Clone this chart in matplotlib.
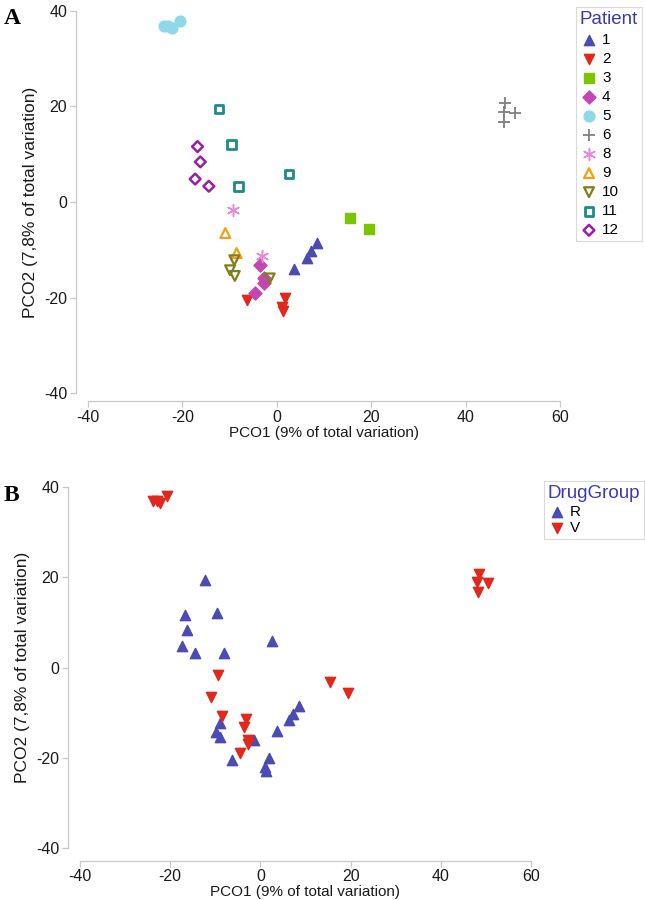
import matplotlib
matplotlib.use('Agg')
import matplotlib.pyplot as plt

plt.rcParams['font.family'] = ['Liberation Sans', 'DejaVu Sans']
plt.rcParams['axes.unicode_minus'] = False

# ---------------- data ----------------
patient_ids = ['1', '2', '3', '4', '5', '6', '8', '9', '10', '11', '12']
patient_group = ['R', 'R', 'V', 'V', 'V', 'V', 'V', 'V', 'R', 'R', 'R']
pco1_values = [
    [3.7, 6.3, 7.2, 8.5],          # 1
    [-6.4, 1.8, 1.1, 1.3],         # 2
    [15.5, 19.5],                  # 3
    [-3.6, -2.8, -2.7, -4.6],      # 4
    [-23.8, -23.0, -22.3, -20.6],  # 5
    [48.4, 48.1, 50.4, 48.2],      # 6
    [-9.3, -3.1],                  # 8
    [-10.9, -8.5],                 # 9
    [-9.0, -9.9, -8.9, -1.5],      # 10
    [-12.2, -9.6, -8.1, 2.6],      # 11
    [-16.8, -16.2, -17.3, -14.4],  # 12
]
pco2_values = [
    [-14.1, -11.7, -10.2, -8.6],
    [-20.6, -20.0, -22.0, -22.9],
    [-3.3, -5.7],
    [-13.1, -16.0, -17.0, -19.0],
    [36.9, 36.8, 36.5, 37.9],
    [20.8, 18.9, 18.7, 16.7],
    [-1.7, -11.4],
    [-6.5, -10.7],
    [-12.2, -14.3, -15.5, -16.0],
    [19.5, 12.0, 3.2, 5.9],
    [11.6, 8.4, 4.8, 3.3],
]
groups = ['R', 'V']
x_ticks = [-40, -20, 0, 20, 40, 60]
y_ticks = [-40, -20, 0, 20, 40]

# ---------------- styles ----------------
p_styles = {
    '1':  dict(marker='^', s=55, c='#4B4BB4'),
    '2':  dict(marker='v', s=55, c='#E0281C'),
    '3':  dict(marker='s', s=42, c='#7CC400'),
    '4':  dict(marker='D', s=44, c='#C645B2'),
    '5':  dict(marker='o', s=60, c='#8ED8E8'),
    '6':  dict(marker='+', s=70, c='#7F7F7F', linewidths=1.3),
    '8':  dict(marker=(6, 2, 0), s=75, c='#E38BDA', linewidths=1.1),
    '9':  dict(marker='^', s=50, facecolors='none', edgecolors='#F0A010', linewidths=1.6),
    '10': dict(marker='v', s=50, facecolors='none', edgecolors='#7F7F1E', linewidths=1.6),
    '11': dict(marker='s', s=38, facecolors='none', edgecolors='#1E8A8A', linewidths=2.0),
    '12': dict(marker='D', s=30, facecolors='none', edgecolors='#9A1EA8', linewidths=1.8),
}
g_styles = {
    'R': dict(marker='^', s=55, c='#4B4BB4'),
    'V': dict(marker='v', s=55, c='#E0281C'),
}

W, H = 645, 900
fig = plt.figure(figsize=(W / 100, H / 100), dpi=100)

def px_axes(left, right, top, bottom):
    return fig.add_axes([left / W, 1 - bottom / H, (right - left) / W, (bottom - top) / H])

def style_axes(ax, off_l, off_b):
    for s in ['top', 'right']:
        ax.spines[s].set_visible(False)
    for s in ['left', 'bottom']:
        ax.spines[s].set_color('#c8c8c8')
        ax.spines[s].set_linewidth(0.9)
    ax.spines['left'].set_position(('outward', off_l))
    ax.spines['bottom'].set_position(('outward', off_b))
    ax.set_xlim(-40, 60)
    ax.set_ylim(-40, 40)
    ax.set_xticks(x_ticks)
    ax.set_yticks(y_ticks)
    ax.tick_params(length=4, width=0.9, color='#c8c8c8', labelsize=11.5,
                   labelcolor='#1a1a1a', pad=2)
    ax.set_xlabel('PCO1 (9% of total variation)', fontsize=11, color='#1a1a1a', labelpad=1)
    ax.set_ylabel('PCO2 (7,8% of total variation)', fontsize=12.5, color='#1a1a1a', labelpad=4)

# ---------------- panel A ----------------
axA = px_axes(88, 560, 11, 393)
style_axes(axA, 9, 6)
for pid, xs, ys in zip(patient_ids, pco1_values, pco2_values):
    axA.scatter(xs, ys, label=pid, zorder=3, **p_styles[pid])
legA = axA.legend(loc='upper left', bbox_to_anchor=(576 / W, 1 - 7 / H),
                  bbox_transform=fig.transFigure, title='Patient', fontsize=11,
                  title_fontsize=13.5, frameon=True, fancybox=False, edgecolor='#d0d0d0',
                  handletextpad=0.25, handlelength=1.2, labelspacing=0.33, borderpad=0.25,
                  borderaxespad=0, scatterpoints=1)
legA.get_title().set_color('#3A3AB0')
legA.get_frame().set_linewidth(0.8)
legA._legend_box.align = 'left'

# ---------------- panel B ----------------
axB = px_axes(80, 531, 487, 848)
style_axes(axB, 9, 9)
for g in groups:
    xs, ys = [], []
    for pg, px_, py_ in zip(patient_group, pco1_values, pco2_values):
        if pg == g:
            xs += px_
            ys += py_
    axB.scatter(xs, ys, label=g, zorder=3, **g_styles[g])
legB = axB.legend(loc='upper left', bbox_to_anchor=(544 / W, 1 - 481 / H),
                  bbox_transform=fig.transFigure, title='DrugGroup', fontsize=11,
                  title_fontsize=13.5, frameon=True, fancybox=False, edgecolor='#d0d0d0',
                  handletextpad=0.25, handlelength=1.2, labelspacing=0.18, borderpad=0.25,
                  borderaxespad=0, scatterpoints=1)
legB.get_title().set_color('#3A3AB0')
legB.get_frame().set_linewidth(0.8)
legB._legend_box.align = 'left'

# panel letters
fig.text(4 / W, 1 - 18 / H, 'A', fontsize=17, fontweight='bold',
         family=['Liberation Serif', 'DejaVu Serif'], va='center', ha='left')
fig.text(4 / W, 1 - 495 / H, 'B', fontsize=17, fontweight='bold',
         family=['Liberation Serif', 'DejaVu Serif'], va='center', ha='left')

fig.savefig('out.png', dpi=100)
